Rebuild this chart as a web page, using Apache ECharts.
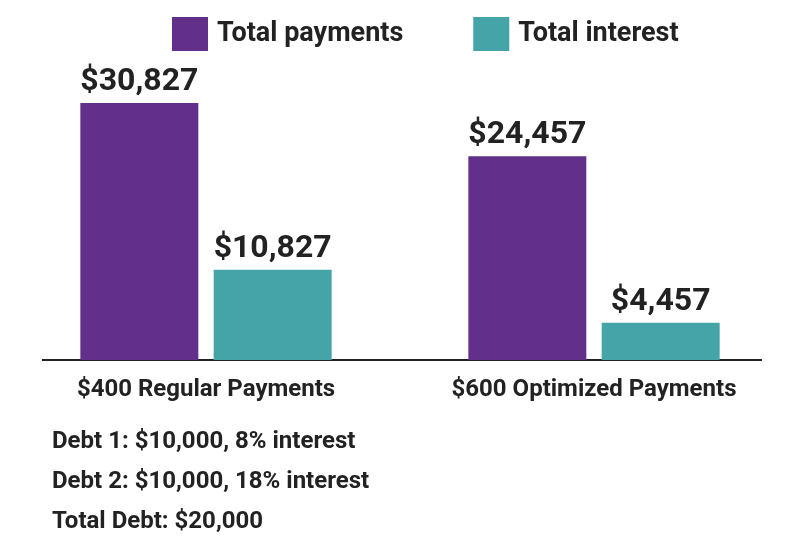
<!DOCTYPE html>
<html><head><meta charset="utf-8">
<script src="https://cdn.jsdelivr.net/npm/echarts@6/dist/echarts.min.js"></script>
<style>html,body{margin:0;background:#fff}#main{width:800px;height:550px}</style>
</head><body><div id="main"></div>
<script>
const categories = ["$400 Regular Payments", "$600 Optimized Payments"];
const totalPayments = [30827, 24457];
const totalInterest = [10827, 4457];
const notes = ["Debt 1: $10,000, 8% interest", "Debt 2: $10,000, 18% interest", "Total Debt: $20,000"];

const chart = echarts.init(document.getElementById("main"));
const font = "Roboto";
const money = (p) => "$" + p.value.toLocaleString("en-US");

const labelStyle = {
  show: true, position: "top", formatter: money,
  fontFamily: font, fontWeight: "bold", fontSize: 32, color: "#222", distance: 5,
};

chart.setOption({
  animation: false,
  legend: {
    left: 167, top: 12, itemWidth: 36, itemHeight: 34, itemGap: 70,
    icon: "rect",
    textStyle: { fontFamily: font, fontSize: 27, fontWeight: "bold", color: "#222", padding: [0, 0, 0, 4] },
  },
  grid: { left: 12, right: 12, top: 60, height: 300 },
  xAxis: {
    type: "category", data: categories,
    axisLine: { show: false }, axisTick: { show: false },
    axisLabel: { fontFamily: font, fontSize: 24, fontWeight: "bold", color: "#222", margin: 18 },
  },
  yAxis: { type: "value", min: 0, max: 36000, show: false },
  series: [
    { name: "Total payments", type: "bar", data: totalPayments, barWidth: 118, barGap: "13%",
      itemStyle: { color: "#62308a" }, label: labelStyle },
    { name: "Total interest", type: "bar", data: totalInterest, barWidth: 118,
      itemStyle: { color: "#45a4a8" }, label: labelStyle },
  ],
  graphic: [
    { type: "line", shape: { x1: 42, y1: 360, x2: 762, y2: 360 }, style: { stroke: "#222", lineWidth: 2 } },
  ].concat(notes.map((t, i) => ({
    type: "text", left: 52, top: 430 + i * 40,
    style: { text: t, fontFamily: font, fontSize: 24, fontWeight: "bold", fill: "#222" },
  }))),
});
</script></body></html>
